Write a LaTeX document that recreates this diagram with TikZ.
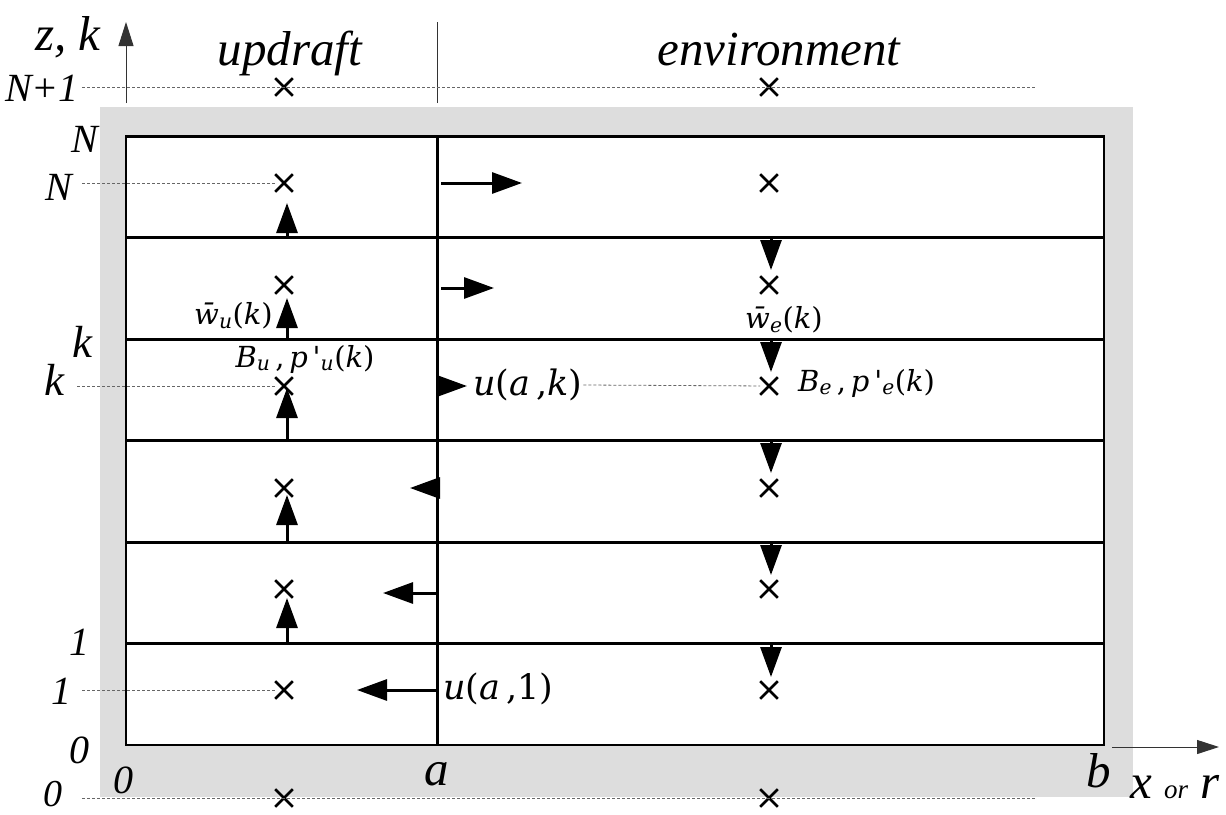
\documentclass[tikz,border=0pt]{standalone}
\usepackage{fontspec}
\setmainfont{Liberation Serif}
\newfontfamily\qtyfont{DejaVu Serif}
\usepackage{tikz}
\usetikzlibrary{arrows.meta, shapes.misc}
\definecolor{framegray}{RGB}{221,221,221}
\newcommand{\vr}[1]{\textit{#1}}
\tikzset{
  wall/.style={line width=3pt},
  rim/.style={line width=2pt},
  axis/.style={line width=1pt, draw=black!80},
  guide/.style={densely dashed, draw=black!60, line width=0.8pt},
  flux/.style={-{Triangle[length=30pt, width=21pt]}, line width=3pt},
  gridpt/.style={cross out, draw, minimum size=15pt, inner sep=0pt, line width=2.6pt},
  lvl/.style={inner sep=0pt, font=\fontsize{40}{42}\selectfont\itshape},
  big/.style={inner sep=0pt, font=\fontsize{49}{51}\selectfont\itshape},
  qty/.style={inner sep=1pt, font=\qtyfont\fontsize{35}{37}\selectfont},
  qtys/.style={inner sep=1pt, font=\qtyfont\fontsize{29}{31}\selectfont},
}

\begin{document}
\begin{tikzpicture}[x=1pt, y=-1pt]
  \useasboundingbox (0,0) rectangle (1226,814);

  %% === Frame and cells ===
  \fill[framegray] (100,107) rectangle (1133,797);
  \fill[white] (126,136) rectangle (1104,745);
  \draw[rim] (126,136) rectangle (1104,745);
  \foreach \y in {136,237.5,339,440.5,542,643.5}
    \draw[wall] (126,\y) -- (1104,\y);
  \draw[wall] (437,136) -- (437,745);

  % Axes
  \coordinate (zbot) at (126,103);
  \coordinate (ztop) at (126,22);
  \coordinate (abot) at (437,103);
  \coordinate (atop) at (437,22);
  \coordinate (xl) at (1112,747);
  \coordinate (xr) at (1219,747);
  \draw[axis, -{Triangle[length=24pt, width=15pt]}] (zbot) -- (ztop);
  \draw[axis] (abot) -- (atop);
  \draw[axis, -{Triangle[length=22pt, width=14pt]}] (xl) -- (xr);

  % Headings
  \node[big, anchor=base] (zk) at (68,50) {z, k};
  \node[big, anchor=base] (upd) at (290,65) {updraft};
  \node[big, anchor=base] (env) at (779,65) {environment};

  % Level labels
  \node[lvl, anchor=east] (lT) at (79,88) {N+1};
  \node[lvl, anchor=east] (lNt) at (98,139) {N};
  \node[lvl, anchor=east] (lN) at (72,187) {N};
  \node[lvl, anchor=east, font=\fontsize{45}{47}\selectfont\itshape] (lkt) at (93,342) {k};
  \node[lvl, anchor=east, font=\fontsize{45}{47}\selectfont\itshape] (lk) at (65,380) {k};
  \node[lvl, anchor=east] (l1t) at (90,642) {1};
  \node[lvl, anchor=east] (l1) at (72,691) {1};
  \node[lvl, anchor=east] (l0t) at (90,750) {0};
  \node[lvl, anchor=east, font=\fontsize{38}{40}\selectfont\itshape] (l0) at (63,794) {0};
  \node[lvl] (x0) at (123,780) {0};
  \node[big] (xa) at (437,774) {a};
  \node[big] (xb) at (1099,771) {b};
  \node[big, anchor=base west] (xlab) at (1130,798) {x {\fontsize{27}{29}\selectfont or} r};

  % Quantities
  \node[qtys, anchor=east] (wu) at (274,316) {\vr{\={w}}\textsubscript{\vr{u}}(\vr{k})};
  \node[qtys] (bu) at (305,359) {\vr{B}\textsubscript{\vr{u}}\,,\,\vr{p}\,\textquotesingle\textsubscript{\vr{u}}(\vr{k})};
  \node[qty, anchor=west] (uak) at (472,385) {\vr{u}(\vr{a}\,,\vr{k})};
  \node[qtys] (we) at (784,320) {\vr{\={w}}\textsubscript{\vr{e}}(\vr{k})};
  \node[qtys, anchor=west] (be) at (797,383) {\vr{B}\textsubscript{\vr{e}}\,,\,\vr{p}\,\textquotesingle\textsubscript{\vr{e}}(\vr{k})};
  \node[qty, anchor=west] (ua1) at (442,689) {\vr{u}(\vr{a}\,,1)};

  %% === Grid points ===
  \foreach \n/\y in {0/798, 1/690, 2/589, 3/488, k/386, 5/285, N/183, T/87} {
    \node[gridpt] (u\n) at (284,\y) {};
    \node[gridpt] (e\n) at (769,\y) {};
  }

  % Guide lines
  \coordinate (gT) at (82,87);   \coordinate (gTr) at (1035,87);
  \coordinate (gN) at (82,183);
  \coordinate (gk) at (77,386);
  \coordinate (g1) at (82,690);
  \coordinate (g0) at (82,798);  \coordinate (g0r) at (1035,798);
  \draw[guide] (gT) -- (gTr);
  \draw[guide] (gN) -- (uN);
  \draw[guide] (gk) -- (uk);
  \draw[guide] (uak.east) -- (ek);
  \draw[guide] (g1) -- (u1);
  \draw[guide] (g0) -- (g0r);

  %% === Fluxes ===
  % Updraft (upward) and environment (downward)
  \foreach \i/\y/\tu/\te in {1/643.5/598/677, 2/542/495/575, 3/440.5/388/473,
                             4/339/298/372, 5/237.5/203/270} {
    \coordinate (wu\i) at (287,\y);
    \coordinate (wuh\i) at (287,\tu);
    \coordinate (we\i) at (771,\y);
    \coordinate (weh\i) at (771,\te);
    \draw[flux] (wu\i) -- (wuh\i);
    \draw[flux] (we\i) -- (weh\i);
  }

  % Lateral inflow / outflow at r = a
  \foreach \i/\y/\xs/\xt in {1/690/437/357, 2/593/437/383, 3/488/437/410,
                             k/386/437/467, 5/288/441/494, N/183/441/522} {
    \coordinate (ua\i) at (\xs,\y);
    \coordinate (uah\i) at (\xt,\y);
    \draw[flux] (ua\i) -- (uah\i);
  }

\end{tikzpicture}
\end{document}
